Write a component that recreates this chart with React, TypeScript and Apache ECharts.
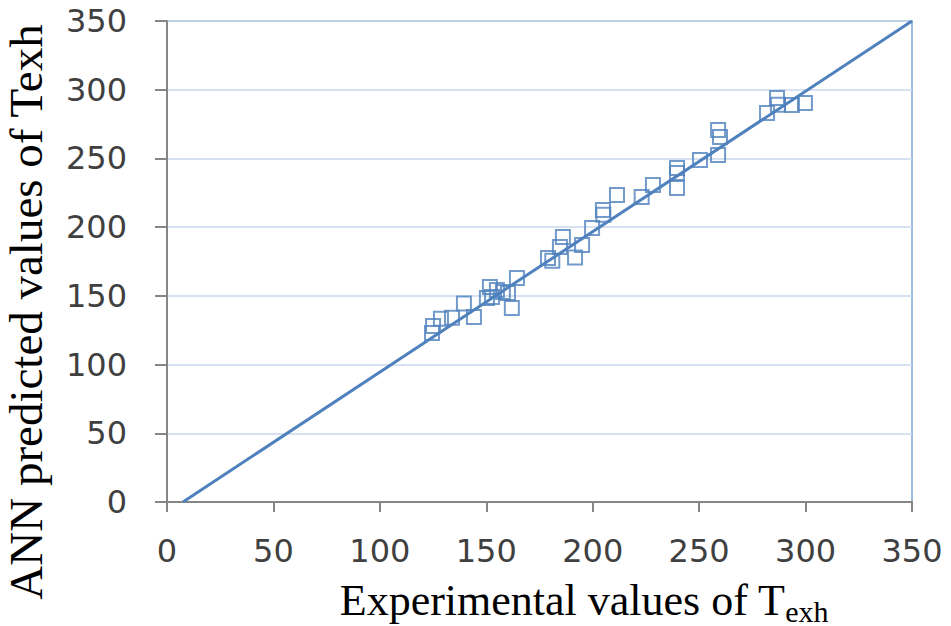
import React, { useEffect, useRef } from "react";
import * as echarts from "echarts";

const experimental: number[] = [
  124.5, 125, 128.7, 133.9, 139.5, 144.2, 150.3, 151.7, 152.7, 155, 157.8, 160.2, 162, 164.4,
  179, 181, 184.6, 186, 191.7, 195, 199.7, 204.8, 205, 211.4, 223, 228.3, 239.6, 239.6, 239.6,
  250.4, 258.9, 259.8, 258.9, 281.9, 286.6, 287, 293.6, 299.7,
];
const predicted: number[] = [
  123, 128, 133.4, 134, 144.5, 134.6, 148.4, 156.4, 149.2, 154.3, 152.8, 152, 141.2, 163,
  177.5, 175.5, 185.5, 192.8, 178, 187, 199.4, 212.5, 209, 223.4, 222, 230.7, 228.5, 243, 239.4,
  248.8, 270.7, 265.6, 252.5, 283, 294, 289, 288.9, 290.3,
];
const fitLine: number[][] = [
  [7.5, 0],
  [350, 350],
];
const ticks: number[] = [0, 50, 100, 150, 200, 250, 300, 350];

const BLUE = "#4f81bd";

export default function App() {
  const ref = useRef<HTMLDivElement>(null);
  useEffect(() => {
    if (!ref.current) return;
    const chart = echarts.init(ref.current, null, { renderer: "svg" });
    const axisLabel = {
      fontFamily: "DejaVu Sans",
      fontSize: 32,
      color: "#404040",
    };
    chart.setOption({
      animation: false,
      backgroundColor: "#ffffff",
      grid: {
        left: 167,
        top: 21,
        right: 39,
        bottom: 124,
        show: true,
        borderColor: "#7fa6d6",
        borderWidth: 1.5,
      },
      xAxis: {
        type: "value",
        min: ticks[0],
        max: ticks[ticks.length - 1],
        interval: 50,
        axisLine: { show: true, onZero: false, lineStyle: { color: "#868686", width: 2 } },
        axisTick: { show: true, length: 10, lineStyle: { color: "#868686", width: 2 } },
        splitLine: { show: false },
        axisLabel: { ...axisLabel, margin: 33 },
      },
      yAxis: {
        type: "value",
        min: ticks[0],
        max: ticks[ticks.length - 1],
        interval: 50,
        axisLine: { show: true, onZero: false, lineStyle: { color: "#868686", width: 2 } },
        axisTick: { show: true, length: 12, lineStyle: { color: "#868686", width: 2 } },
        splitLine: { show: true, lineStyle: { color: "#c9d8ec", width: 1.5 } },
        axisLabel: { ...axisLabel, margin: 40 },
      },
      series: [
        {
          type: "line",
          data: fitLine,
          symbol: "none",
          lineStyle: { color: BLUE, width: 3 },
          z: 3,
        },
        {
          type: "scatter",
          data: experimental.map((x, i) => [x, predicted[i]]),
          symbol: "rect",
          symbolSize: 14,
          itemStyle: { color: "rgba(255,255,255,0)", borderColor: BLUE, borderWidth: 2 },
          z: 4,
        },
      ],
      graphic: [
        {
          type: "text",
          x: 26,
          y: 312,
          rotation: Math.PI / 2,
          style: {
            text: "ANN predicted values of Texh",
            fontFamily: "Liberation Serif",
            fontSize: 47,
            fill: "#000",
            align: "center",
            verticalAlign: "middle",
          },
        },
        {
          type: "text",
          x: 584,
          y: 600,
          style: {
            text: "{a|Experimental values of T}{b|exh}",
            align: "center",
            verticalAlign: "middle",
            rich: {
              a: { fontFamily: "Liberation Serif", fontSize: 44, fill: "#000" },
              b: { fontFamily: "Liberation Serif", fontSize: 30, fill: "#000", padding: [22, 0, 0, 0] },
            },
          },
        },
      ],
    });
    return () => chart.dispose();
  }, []);
  return (
    <div
      ref={ref}
      style={{ position: "fixed", left: 0, top: 0, width: 951, height: 626 }}
    />
  );
}
